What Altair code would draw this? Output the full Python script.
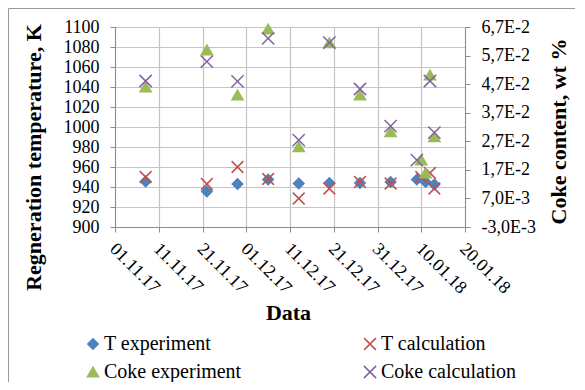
import altair as alt
import pandas as pd

# ---------------- data ----------------
t_exp_dates = ["2017-11-08", "2017-11-22", "2017-11-29", "2017-12-06", "2017-12-13",
               "2017-12-20", "2017-12-27", "2018-01-03", "2018-01-09", "2018-01-11", "2018-01-13"]
t_exp_values = [945.5, 935.5, 943, 947.5, 943.5, 944, 944, 945, 947.5, 945, 942.5]

t_calc_dates = ["2017-11-08", "2017-11-22", "2017-11-29", "2017-12-06", "2017-12-13",
                "2017-12-20", "2017-12-27", "2018-01-03", "2018-01-10", "2018-01-12", "2018-01-13"]
t_calc_values = [950, 943, 960, 948, 928.5, 938.5, 945, 943.5, 950, 954, 938.5]

coke_exp_dates = ["2017-11-08", "2017-11-22", "2017-11-29", "2017-12-06", "2017-12-13",
                  "2017-12-20", "2017-12-27", "2018-01-03", "2018-01-10", "2018-01-11",
                  "2018-01-12", "2018-01-13"]
coke_exp_values = [0.046, 0.059, 0.0432, 0.0663, 0.0251, 0.0615, 0.0432, 0.0304, 0.0205,
                   0.0159, 0.0502, 0.0286]

coke_calc_dates = ["2017-11-08", "2017-11-22", "2017-11-29", "2017-12-06", "2017-12-13",
                   "2017-12-20", "2017-12-27", "2018-01-03", "2018-01-09", "2018-01-12",
                   "2018-01-13"]
coke_calc_values = [0.0481, 0.0549, 0.048, 0.063, 0.0274, 0.0615, 0.0453, 0.0323, 0.0204,
                    0.0481, 0.030]

series_names = ["T experiment", "T calculation", "Coke experiment", "Coke calculation"]
series_colors = ["#4F81BD", "#C0504D", "#9BBB59", "#8064A2"]
x_path = "M-1,-1L1,1M-1,1L1,-1"
series_shapes = ["diamond", x_path, "triangle-up", x_path]
series_sizes = [110, 150, 150, 150]

x_tick_dates = [(2017, 11, 1), (2017, 11, 11), (2017, 11, 21), (2017, 12, 1), (2017, 12, 11),
                (2017, 12, 21), (2017, 12, 31), (2018, 1, 10), (2018, 1, 20)]
left_ticks = [900, 920, 940, 960, 980, 1000, 1020, 1040, 1060, 1080, 1100]
right_ticks = [-0.003, 0.007, 0.017, 0.027, 0.037, 0.047, 0.057, 0.067]
right_labels = ["-3,0E-3", "7,0E-3", "1,7E-2", "2,7E-2", "3,7E-2", "4,7E-2", "5,7E-2", "6,7E-2"]


def frame(dates, values, name):
    return pd.DataFrame({"date": dates, "value": values, "series": name})


t_df = pd.concat([frame(t_exp_dates, t_exp_values, series_names[0]),
                  frame(t_calc_dates, t_calc_values, series_names[1])], ignore_index=True)
c_df = pd.concat([frame(coke_exp_dates, coke_exp_values, series_names[2]),
                  frame(coke_calc_dates, coke_calc_values, series_names[3])], ignore_index=True)

FONT = "Liberation Serif"
GRID = "#c4c4c4"
AX = "#8c8c8c"

# legend is filled column by column: reorder so rows read T exp / T calc, Coke exp / Coke calc
legend_order = [0, 2, 1, 3]
dom = [series_names[i] for i in legend_order]
col_rng = [series_colors[i] for i in legend_order]
shp_rng = [series_shapes[i] for i in legend_order]
siz_rng = [series_sizes[i] for i in legend_order]

dt = lambda d: alt.DateTime(year=d[0], month=d[1], date=d[2], utc=True)

x_enc = alt.X(
    "date:T",
    scale=alt.Scale(type="utc", domain=[dt(x_tick_dates[0]), dt(x_tick_dates[-1])]),
    axis=alt.Axis(values=[dt(d) for d in x_tick_dates],
                  labelExpr="utcFormat(datum.value, '%d.%m.%y')",
                  labelAngle=45, labelAlign="left", labelBaseline="middle", labelPadding=14,
                  labelOffset=-3,
                  labelOverlap=False, labelFont=FONT, labelFontSize=18, labelColor="black",
                  title="Data", titleX=173, titleY=85, titleBaseline="middle",
                  titleAlign="center"),
)

legend = alt.Legend(orient="none", legendX=-32, legendY=307, columns=2, columnPadding=118,
                    rowPadding=8, symbolSize=110, symbolStrokeWidth=1.5, labelFontSize=20,
                    labelFont=FONT, labelColor="black", labelOffset=1, title=None)

col_scale = alt.Scale(domain=dom, range=col_rng)
enc_common = dict(
    color=alt.Color("series:N", scale=col_scale, legend=legend, title=None),
    fill=alt.Fill("series:N", scale=col_scale, legend=legend, title=None),
    shape=alt.Shape("series:N", scale=alt.Scale(domain=dom, range=shp_rng),
                    legend=legend, title=None),
    size=alt.Size("series:N", scale=alt.Scale(domain=dom, range=siz_rng), legend=None),
)

t_layer = alt.Chart(t_df).mark_point(filled=False, strokeWidth=1.5, opacity=1).encode(
    x=x_enc,
    y=alt.Y("value:Q", scale=alt.Scale(domain=[900, 1100], nice=False, zero=False),
            axis=alt.Axis(values=left_ticks, format="d", title="Regneration temperature, K",
                          labelFont=FONT, labelFontSize=18, labelColor="black",
                          titleX=-82, titleY=130, titleAngle=270, titleBaseline="middle",
                          titleAlign="center", labelPadding=11, grid=True)),
    **enc_common,
)

c_layer = alt.Chart(c_df).mark_point(filled=False, strokeWidth=1.5, opacity=1).encode(
    x=x_enc,
    y=alt.Y("value:Q", scale=alt.Scale(domain=[-0.003, 0.067], nice=False, zero=False),
            axis=alt.Axis(orient="right", values=right_ticks, grid=False,
                          labelExpr="[" + ",".join("'%s'" % s for s in right_labels) +
                          "][round((datum.value + 0.003) / 0.01)]",
                          labelFont=FONT, labelFontSize=18, labelColor="black",
                          title="Coke content, wt %", titleX=93, titleY=104, titleAngle=270,
                          titleBaseline="middle", titleAlign="center", labelPadding=11)),
    **enc_common,
)

frame_df = pd.DataFrame({"k": [0]})
left_border = alt.Chart(frame_df).mark_rule(color="#9a9a9a", strokeWidth=1).encode(
    x=alt.value(-106.5), y=alt.value(-18.5), y2=alt.value(360))
top_border = alt.Chart(frame_df).mark_rule(color="#9a9a9a", strokeWidth=1).encode(
    x=alt.value(-106.5), x2=alt.value(462), y=alt.value(-18.5))

chart = alt.layer(left_border, top_border, t_layer, c_layer).resolve_scale(
    y="independent"
).properties(
    width=350, height=200,
    autosize=alt.AutoSizeParams(type="none"),
    padding={"left": 107, "top": 19, "right": 110, "bottom": 155},
).configure_view(stroke=None).configure_axis(
    labelFont=FONT, labelFontSize=18, labelColor="black",
    titleFont=FONT, titleFontSize=22, titleFontWeight="bold", titleColor="black",
    domainColor=AX, tickColor=AX, tickSize=5, gridColor=GRID, gridWidth=1.2,
).configure_legend(labelFont=FONT, labelFontSize=20, labelColor="black")

chart.save("out.html", embed_options={"renderer": "svg", "actions": False})
